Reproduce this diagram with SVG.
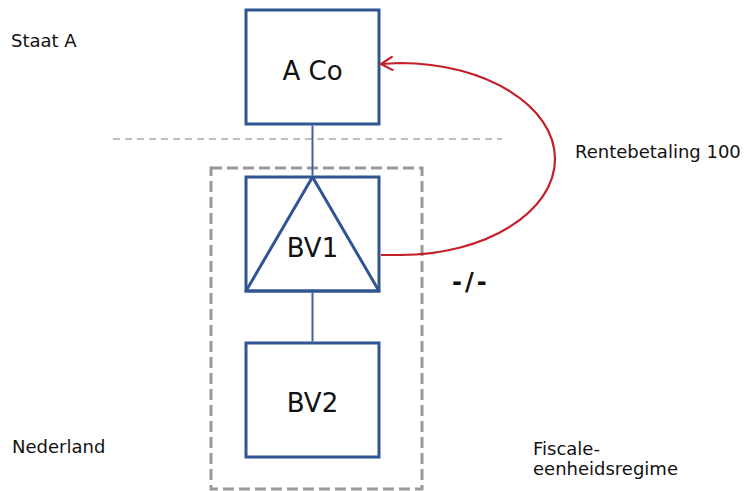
<svg xmlns="http://www.w3.org/2000/svg" width="751" height="491" viewBox="0 0 751 491">
<style>
.box{fill:#ffffff;stroke:#2f5592;stroke-width:3}
.link{stroke:#3a62a0;stroke-width:2;fill:none}
.lbl{font-family:"DejaVu Sans","Verdana",sans-serif;font-size:18px;fill:#111}
.node{font-family:"DejaVu Sans","Verdana",sans-serif;font-size:26px;fill:#111;text-anchor:middle}
.red{stroke:#c41e28;stroke-width:2.2;fill:none}
</style>
<defs>
<marker id="openArrow" markerWidth="16" markerHeight="16" refX="14" refY="8" orient="auto" markerUnits="userSpaceOnUse">
<polyline points="2,1 14,8 2,15" fill="none" stroke="#c41e28" stroke-width="2.2"/>
</marker>
</defs>
<rect width="751" height="491" fill="#ffffff"/>
<line x1="113" y1="139" x2="502" y2="139" stroke="#aaaaaa" stroke-width="1.6" stroke-dasharray="7 5"/>
<rect id="fiscale-eenheid" x="211" y="168" width="211" height="321" fill="none" stroke="#999999" stroke-width="3" stroke-dasharray="11 5"/>
<g id="aco">
<rect class="box" x="246" y="10" width="133" height="114"/>
<text class="node" x="312.5" y="80">A Co</text>
</g>
<g id="bv1">
<rect class="box" x="246" y="177" width="133" height="114"/>
<polygon points="312.5,177 246,291 379,291" fill="none" stroke="#2f5592" stroke-width="3" stroke-linejoin="round"/>
<text class="node" x="312.5" y="257">BV1</text>
</g>
<g id="bv2">
<rect class="box" x="246" y="343" width="133" height="114"/>
<text class="node" x="312.5" y="412">BV2</text>
</g>
<g id="connectors">
<line class="link" x1="312.5" y1="125.5" x2="312.5" y2="175.5"/>
<line class="link" x1="312.5" y1="292.5" x2="312.5" y2="341.5"/>
<path class="red" d="M381,255 L400,255 C485.6,255 555,212 555,159 C555,106 485.6,63 400,63 L381,64" marker-end="url(#openArrow)"/>
</g>
<text class="lbl" x="11" y="47">Staat A</text>
<text class="lbl" x="575" y="158">Rentebetaling 100</text>
<text x="452" y="290" font-family="DejaVu Sans, Verdana, sans-serif" font-size="24" font-weight="bold" letter-spacing="3" fill="#111">-/-</text>
<text class="lbl" x="12" y="453">Nederland</text>
<text class="lbl" x="533" y="455">Fiscale-</text>
<text class="lbl" x="533" y="475">eenheidsregime</text>
</svg>
